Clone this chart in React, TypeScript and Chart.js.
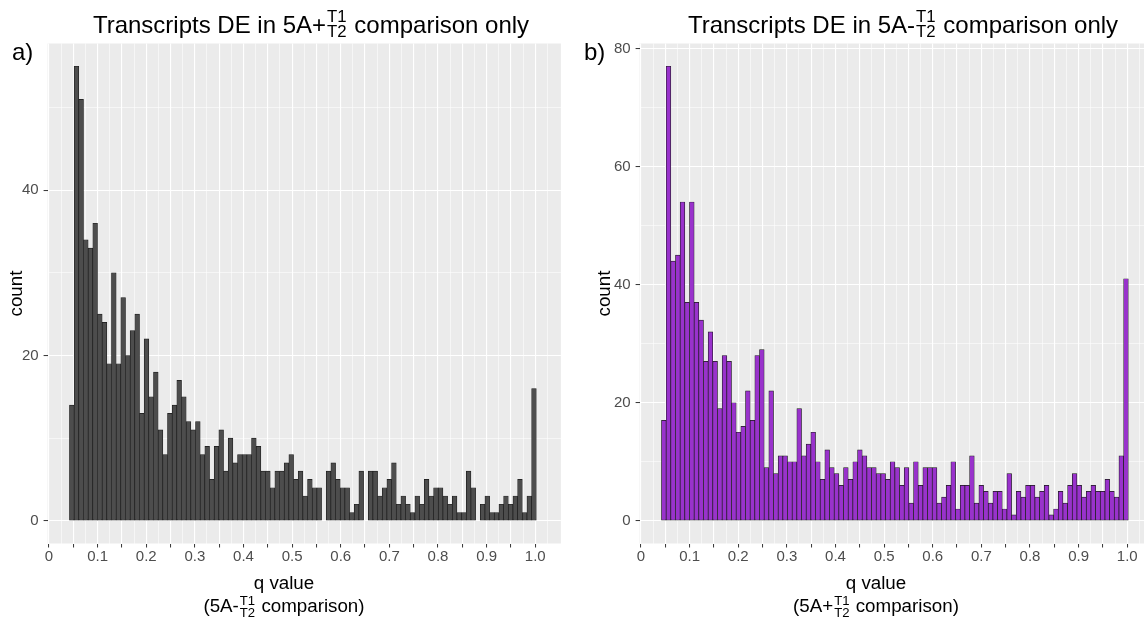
import React, { useEffect, useRef } from 'react';
import { Chart, registerables } from 'chart.js';

Chart.register(...registerables);

const FONT = "'Liberation Sans', Arial, Helvetica, sans-serif";

// Histogram bins (q value), 100 bins
const BIN_START = 0.0422;
const BIN_WIDTH = 0.0096;

// a) Transcripts DE in 5A+ comparison only
const COUNTS_A = [
  14, 55, 51, 34, 33, 36, 25, 24, 19, 30,
  19, 27, 20, 23, 25, 13, 22, 15, 18, 11,
  8, 13, 14, 17, 15, 12, 11, 12, 8, 9,
  5, 9, 11, 6, 10, 7, 8, 8, 8, 10,
  9, 6, 6, 4, 6, 6, 7, 8, 5, 6,
  3, 5, 4, 4, 0, 6, 7, 5, 4, 4,
  1, 2, 6, 0, 6, 6, 3, 4, 5, 7,
  2, 3, 2, 1, 3, 2, 5, 3, 4, 4,
  3, 2, 3, 1, 1, 6, 4, 0, 2, 3,
  1, 1, 2, 3, 2, 3, 5, 1, 3, 16,
];

// b) Transcripts DE in 5A- comparison only
const COUNTS_B = [
  17, 77, 44, 45, 54, 37, 54, 37, 34, 27,
  32, 27, 19, 28, 27, 20, 15, 16, 22, 17,
  28, 29, 9, 22, 8, 11, 11, 10, 10, 19,
  11, 13, 15, 10, 7, 12, 9, 8, 6, 9,
  7, 10, 12, 11, 9, 9, 8, 8, 7, 10,
  9, 6, 9, 3, 10, 6, 9, 9, 9, 3,
  4, 6, 10, 2, 6, 6, 11, 3, 6, 5,
  3, 5, 5, 2, 8, 1, 5, 4, 6, 6,
  4, 5, 6, 1, 2, 5, 3, 6, 8, 6,
  4, 5, 6, 5, 5, 7, 5, 4, 11, 41,
];

const X_MAJOR = [0, 0.05, 0.1, 0.15, 0.2, 0.25, 0.3, 0.35, 0.4, 0.45, 0.5, 0.55, 0.6, 0.65, 0.7, 0.75, 0.8, 0.85, 0.9, 0.95, 1.0];
const X_MINOR = [0.025, 0.075, 0.125, 0.175, 0.225, 0.275, 0.325, 0.375, 0.425, 0.475, 0.525, 0.575, 0.625, 0.675, 0.725, 0.775, 0.825, 0.875, 0.925, 0.975, 1.025];
const X_LABELED = [0, 0.1, 0.2, 0.3, 0.4, 0.5, 0.6, 0.7, 0.8, 0.9, 1.0];
const X_TICK_LABELS = ['0', '0.1', '0.2', '0.3', '0.4', '0.5', '0.6', '0.7', '0.8', '0.9', '1.0'];

const Y_A_MAJOR = [0, 20, 40];
const Y_A_MINOR = [10, 30, 50];
const Y_B_MAJOR = [0, 20, 40, 60, 80];
const Y_B_MINOR = [10, 30, 50, 70];

const near = (a: number, b: number) => Math.abs(a - b) < 1e-6;

const panelBg = {
  id: 'panelBg',
  beforeDraw(chart: any) {
    const { ctx, chartArea: a } = chart;
    ctx.save();
    ctx.fillStyle = '#EBEBEB';
    ctx.fillRect(a.left, a.top, a.right - a.left, a.bottom - a.top);
    ctx.restore();
  },
};

type PanelProps = {
  counts: number[];
  fill: string;
  yMin: number;
  yMax: number;
  yMajor: number[];
  yMinor: number[];
  canvasLeft: number;
  canvasWidth: number;
  areaLeft: number;
  areaRight: number;
  yTitlePad: number;
};

function Panel(p: PanelProps) {
  const ref = useRef<HTMLCanvasElement>(null);
  useEffect(() => {
    const isMajorX = (v: number) => X_MAJOR.some((m) => near(m, v));
    const isMajorY = (v: number) => p.yMajor.some((m) => near(m, v));
    const chart = new Chart(ref.current as HTMLCanvasElement, {
      type: 'bar',
      data: {
        datasets: [
          {
            data: p.counts.map((c, i) => ({ x: BIN_START + (i + 0.5) * BIN_WIDTH, y: c })),
            backgroundColor: p.fill,
            borderColor: '#1A1A1A',
            borderWidth: 0.7,
            borderSkipped: false,
            barPercentage: 1,
            categoryPercentage: 1,
          } as any,
        ],
      },
      options: {
        responsive: false,
        maintainAspectRatio: false,
        animation: false,
        events: [],
        layout: { padding: { left: 0, top: 43.5, right: p.canvasWidth - p.areaRight, bottom: 0 } },
        plugins: { legend: { display: false }, tooltip: { enabled: false }, title: { display: false } },
        scales: {
          x: {
            type: 'linear',
            min: -0.0028,
            max: 1.0528,
            offset: false,
            afterBuildTicks: (s: any) => {
              s.ticks = [...X_MAJOR, ...X_MINOR].sort((a, b) => a - b).map((value) => ({ value }));
            },
            afterFit: (s: any) => {
              s.height = 626 - 543.5;
            },
            grid: {
              offset: false,
              color: '#FFFFFF',
              lineWidth: (c: any) => (c.tick && isMajorX(c.tick.value) ? 1.1 : 0.55),
              drawTicks: true,
              tickLength: 4,
              tickWidth: 1,
              tickColor: (c: any) => (c.tick && isMajorX(c.tick.value) ? '#333333' : 'rgba(0,0,0,0)'),
            },
            border: { display: false },
            ticks: {
              autoSkip: false,
              maxRotation: 0,
              minRotation: 0,
              padding: 0,
              color: '#4D4D4D',
              font: { family: FONT, size: 15 },
              callback: (v: any) => {
                const i = X_LABELED.findIndex((x) => near(x, Number(v)));
                return i >= 0 ? X_TICK_LABELS[i] : '';
              },
            },
          },
          y: {
            type: 'linear',
            min: p.yMin,
            max: p.yMax,
            afterBuildTicks: (s: any) => {
              s.ticks = [...p.yMajor, ...p.yMinor].sort((a, b) => a - b).map((value) => ({ value }));
            },
            afterFit: (s: any) => {
              s.width = p.areaLeft;
            },
            grid: {
              color: '#FFFFFF',
              lineWidth: (c: any) => (c.tick && isMajorY(c.tick.value) ? 1.1 : 0.55),
              drawTicks: true,
              tickLength: 4,
              tickWidth: 1,
              tickColor: (c: any) => (c.tick && isMajorY(c.tick.value) ? '#333333' : 'rgba(0,0,0,0)'),
            },
            border: { display: false },
            ticks: {
              autoSkip: false,
              padding: 5,
              color: '#4D4D4D',
              font: { family: FONT, size: 15 },
              callback: (v: any) => (isMajorY(Number(v)) ? String(v) : ''),
            },
            title: {
              display: true,
              text: 'count',
              color: '#000000',
              font: { family: FONT, size: 18.75 },
              padding: { top: p.yTitlePad, bottom: 0 },
            },
          },
        },
      } as any,
      plugins: [panelBg],
    });
    return () => chart.destroy();
  }, []);
  return (
    <canvas
      ref={ref}
      width={p.canvasWidth}
      height={626}
      style={{ position: 'absolute', left: p.canvasLeft, top: 0, width: p.canvasWidth, height: 626 }}
    />
  );
}

const Stack = ({ top, bottom, lh }: { top: string; bottom: string; lh: number }) => (
  <span
    style={{
      display: 'inline-flex',
      flexDirection: 'column',
      alignItems: 'center',
      fontSize: '0.7em',
      lineHeight: lh,
      margin: '0 1px',
    }}
  >
    <span>{top}</span>
    <span>{bottom}</span>
  </span>
);

const Line = ({ cx, cy, size, children }: { cx: number; cy: number; size: number; children: any }) => (
  <div
    style={{
      position: 'absolute',
      left: cx - 300,
      width: 600,
      top: cy - 25,
      height: 50,
      display: 'flex',
      alignItems: 'center',
      justifyContent: 'center',
      fontFamily: FONT,
      fontSize: size,
      lineHeight: 1,
      color: '#000',
      whiteSpace: 'pre',
    }}
  >
    {children}
  </div>
);

const Tag = ({ x, text }: { x: number; text: string }) => (
  <div
    style={{ position: 'absolute', left: x, top: 40, fontFamily: FONT, fontSize: 24, lineHeight: 1, color: '#000' }}
  >
    {text}
  </div>
);

export default function App() {
  return (
    <div
      style={{
        position: 'fixed',
        left: 0,
        top: 0,
        width: 1144,
        height: 626,
        overflow: 'hidden',
        background: '#FFFFFF',
      }}
    >
      <Panel
        counts={COUNTS_A}
        fill="#4D4D4D"
        yMin={-2.75}
        yMax={57.75}
        yMajor={Y_A_MAJOR}
        yMinor={Y_A_MINOR}
        canvasLeft={0}
        canvasWidth={575}
        areaLeft={47.6}
        areaRight={560.9}
        yTitlePad={6}
      />
      <Panel
        counts={COUNTS_B}
        fill="#9932CC"
        yMin={-3.85}
        yMax={80.85}
        yMajor={Y_B_MAJOR}
        yMinor={Y_B_MINOR}
        canvasLeft={575}
        canvasWidth={600}
        areaLeft={64.6}
        areaRight={577.9}
        yTitlePad={19}
      />

      <Line cx={311} cy={24.5} size={24}>
        <span>Transcripts DE in 5A+</span>
        <Stack top="T1" bottom="T2" lh={0.87} />
        <span> comparison only</span>
      </Line>
      <Line cx={903} cy={24.5} size={24}>
        <span>Transcripts DE in 5A-</span>
        <Stack top="T1" bottom="T2" lh={0.87} />
        <span> comparison only</span>
      </Line>

      <Tag x={12} text="a)" />
      <Tag x={584} text="b)" />

      <Line cx={284} cy={583.4} size={18.75}>
        <span>q value</span>
      </Line>
      <Line cx={284} cy={606.6} size={18.75}>
        <span>(5A-</span>
        <Stack top="T1" bottom="T2" lh={0.92} />
        <span> comparison)</span>
      </Line>

      <Line cx={876} cy={583.4} size={18.75}>
        <span>q value</span>
      </Line>
      <Line cx={876} cy={606.6} size={18.75}>
        <span>(5A+</span>
        <Stack top="T1" bottom="T2" lh={0.92} />
        <span> comparison)</span>
      </Line>
    </div>
  );
}
